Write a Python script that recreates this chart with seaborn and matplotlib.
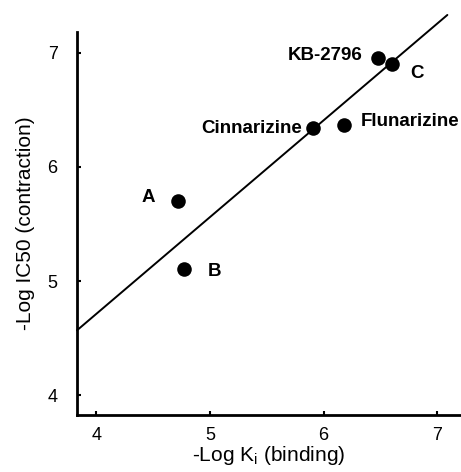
import matplotlib
matplotlib.use("Agg")
import matplotlib.pyplot as plt
import seaborn as sns
import pandas as pd

# data
names = ["A", "B", "Cinnarizine", "Flunarizine", "KB-2796", "C"]
log_ki = [4.72, 4.77, 5.91, 6.18, 6.48, 6.60]
log_ic50 = [5.70, 5.11, 6.34, 6.37, 6.95, 6.90]
fit_x = [3.83, 7.09]
fit_y = [4.57, 7.33]
x_ticks = [4, 5, 6, 7]
y_ticks = [4, 5, 6, 7]

sns.set_theme(style="ticks")
plt.rcParams['font.family'] = ['Liberation Sans', 'DejaVu Sans']
plt.rcParams['text.color'] = 'black'
plt.rcParams['axes.labelcolor'] = 'black'

fig = plt.figure(figsize=(4.61, 4.72), dpi=100)
ax = fig.add_axes([0.167, 0.121, 0.833, 0.811])

df = pd.DataFrame({"x": log_ki, "y": log_ic50, "name": names})
sns.lineplot(x=fit_x, y=fit_y, ax=ax, color="black", linewidth=1.4, clip_on=False)
sns.scatterplot(data=df, x="x", y="y", ax=ax, color="black", s=110,
                edgecolor="black", linewidth=0, zorder=3, clip_on=False)

offsets = {
    "A": (-26, 3, "left"),
    "B": (17, -2, "left"),
    "Cinnarizine": (-8, 0, "right"),
    "Flunarizine": (12, 2, "left"),
    "KB-2796": (-11, 2, "right"),
    "C": (13, -7, "left"),
}
for n, xv, yv in zip(names, log_ki, log_ic50):
    dx, dy, ha = offsets[n]
    ax.annotate(n, (xv, yv), xytext=(dx, dy), textcoords="offset points",
                ha=ha, va="center", fontsize=13.5, fontweight="bold",
                color="black")

ax.set_xlim(3.83, 7.21)
ax.set_ylim(3.83, 7.18)
ax.set_xticks(x_ticks)
ax.set_yticks(y_ticks)
ax.tick_params(direction="in", length=3, width=1.5, labelsize=13, colors="black")
ax.tick_params(axis="y", pad=14)
ax.tick_params(axis="x", pad=9)
for s in ["top", "right"]:
    ax.spines[s].set_visible(False)
for s in ["left", "bottom"]:
    ax.spines[s].set_linewidth(2)
    ax.spines[s].set_color("black")
ax.set_xlabel("-Log K$_\\mathregular{i}$ (binding)", fontsize=15, labelpad=0)
ax.set_ylabel("-Log IC50 (contraction)", fontsize=15, labelpad=9)

fig.savefig("out.png", dpi=100)
